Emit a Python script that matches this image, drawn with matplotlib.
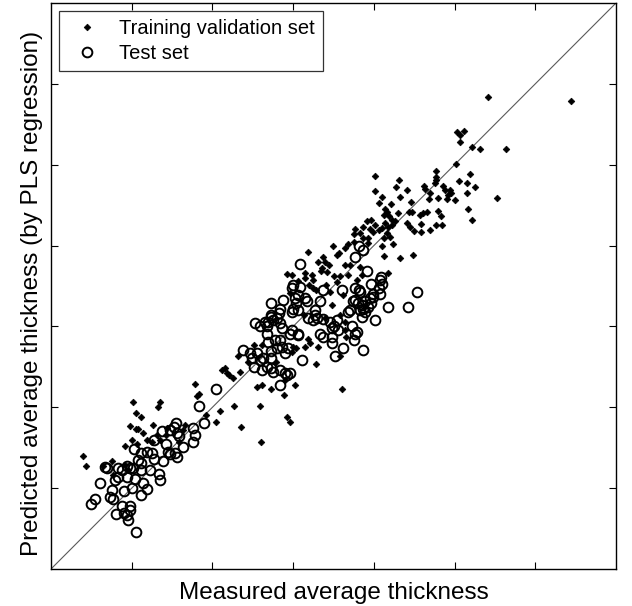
import matplotlib
matplotlib.use('Agg')
import matplotlib.pyplot as plt
import numpy as np

plt.rcParams['font.family'] = ['Liberation Sans', 'DejaVu Sans']

# training / validation set (measured, predicted)
train_x = [5.42, 6.44, 5.03, 5.07, 5.12, 5.07, 5.22, 5.31, 5.64, 5.02, 4.77, 4.77, 4.77, 4.76,
           5.19, 4.31, 5.05, 5.15, 4.28, 4.41, 4.62, 4.63, 4.86, 4.88, 4.94, 4.96, 4.92, 4.90,
           5.25, 5.16, 4.70, 5.52, 4.32, 4.10, 4.79, 4.68,
           4.02, 4.01, 5.01, 4.46, 4.06, 4.21, 5.17, 5.21,
           4.14, 4.16, 4.12, 4.19, 4.22, 4.26,
           4.30, 4.43, 4.47, 4.57, 4.61, 4.66, 4.80, 4.83,
           4.41, 4.45, 4.50, 4.59, 4.70, 4.59, 4.77, 4.84,
           3.91, 3.97, 4.01, 3.95, 3.99, 4.06, 4.10, 4.14, 4.18, 4.22, 4.16, 4.20, 4.12,
           3.77, 3.75, 3.83, 3.87, 3.86, 3.93,
           3.64, 3.68, 3.75, 3.93, 4.10, 4.12, 4.24, 4.32, 4.49, 4.18, 3.70, 3.83, 3.68, 3.85,
           3.49, 3.18, 3.37, 3.40, 3.45, 3.54, 3.57,
           3.15, 3.15, 3.23, 3.25, 3.35, 3.50, 3.58, 3.54,
           3.24, 3.46, 3.13, 3.19, 3.21, 3.00, 3.04, 3.15, 3.31, 3.58, 3.28,
           3.62, 3.64, 3.66, 3.79, 3.48, 3.58, 3.40, 3.64,
           2.93, 2.96, 3.60, 2.60,
           3.31, 3.36, 3.42, 3.20, 3.28, 3.41, 3.64, 2.99, 3.06,
           2.61, 2.44, 2.79, 2.99,
           2.32, 2.51, 2.12, 2.16, 2.18, 2.26, 2.34, 2.55, 2.61, 2.73, 2.90, 3.02, 2.89,
           2.59, 2.27, 2.92, 2.96, 2.36, 2.05, 2.09, 1.92, 1.78, 1.81, 1.83, 1.66, 1.64,
           1.02, 1.05, 1.12, 1.35, 1.33, 2.20,
           0.98, 1.05, 1.08, 1.14, 1.26, 1.00, 0.92, 0.40, 0.43, 0.76, 0.65, 1.07,
           1.31, 1.35, 1.19, 1.25, 1.44, 1.43, 1.58, 0.77, 0.92, 0.96]
train_y = [5.84, 5.79, 5.40, 5.37, 5.42, 5.28, 5.22, 5.19, 5.19, 5.01, 4.92, 4.85, 4.81, 4.77,
           4.89, 4.81, 4.80, 4.78, 4.72, 4.69, 4.74, 4.70, 4.74, 4.69, 4.69, 4.65, 4.63, 4.58,
           4.72, 4.65, 4.65, 4.59, 4.60, 4.60, 4.59, 4.58,
           4.86, 4.67, 4.56, 4.54, 4.53, 4.51, 4.45, 4.32,
           4.45, 4.42, 4.38, 4.36, 4.32, 4.31,
           4.40, 4.41, 4.41, 4.38, 4.40, 4.41, 4.43, 4.37,
           4.28, 4.23, 4.18, 4.27, 4.19, 4.17, 4.25, 4.26,
           4.30, 4.32, 4.25, 4.21, 4.17, 4.19, 4.22, 4.28, 4.23, 4.25, 4.15, 4.11, 4.09,
           4.21, 4.14, 4.16, 4.23, 4.09, 4.09,
           3.97, 4.02, 4.05, 4.03, 3.99, 3.87, 4.02, 3.85, 3.88, 3.66, 3.76, 3.74, 3.64, 3.64,
           3.99, 3.92, 3.86, 3.80, 3.76, 3.88, 3.91,
           3.66, 3.60, 3.64, 3.58, 3.68, 3.62, 3.62, 3.55,
           3.47, 3.42, 3.14, 2.85, 2.79, 2.75, 2.73, 2.75, 2.75, 2.63, 2.54,
           3.39, 2.96, 2.87, 3.57, 3.26, 3.14, 3.10, 3.05,
           3.65, 3.41, 2.23, 1.57,
           3.80, 3.72, 3.67, 3.51, 3.45, 3.51, 3.76, 3.64, 3.56,
           2.77, 2.56, 2.56, 2.68,
           2.63, 2.77, 2.46, 2.48, 2.43, 2.36, 2.44, 2.25, 2.28, 2.22, 2.34, 2.28, 2.15,
           2.02, 2.01, 1.88, 1.82, 1.76, 1.82, 1.95, 1.91, 2.29, 2.14, 2.17, 1.78, 1.72,
           2.06, 1.93, 1.88, 2.06, 2.00, 2.40,
           1.77, 1.73, 1.73, 1.68, 1.78, 1.60, 1.52, 1.40, 1.28, 1.34, 1.27, 1.55,
           1.66, 1.60, 1.60, 1.57, 1.74, 1.66, 1.57, 1.16, 1.29, 1.22]

# test set (measured, predicted)
test_x = [3.81, 3.87, 3.77, 3.91, 3.97, 4.09, 4.10, 4.53, 3.81,
          3.09, 3.37, 2.98, 3.60, 3.02, 3.04, 3.00, 2.98, 3.06, 3.15, 3.17, 3.33, 3.27, 3.27,
          2.98, 3.19, 3.25, 3.29, 3.37, 3.46, 3.50, 3.54, 3.56, 3.48, 3.33, 3.37, 3.06, 3.48,
          3.11, 3.52, 2.96,
          3.77, 3.83, 3.77, 3.74, 3.80, 3.85, 3.89, 3.95, 3.99, 3.97, 3.87, 3.83, 3.89, 3.85, 3.93,
          4.08, 4.06, 4.08, 3.99,
          4.17, 4.42, 4.02, 3.71, 3.68, 3.73, 3.77, 3.79, 3.75, 3.87, 3.62, 3.48,
          2.73, 2.88, 2.53, 2.59, 2.69, 2.73, 2.80, 2.84, 2.86, 2.67, 2.69, 2.78, 2.84, 2.86,
          2.94, 2.90, 2.80, 2.73, 2.96, 3.06, 2.38,
          2.49, 2.47, 2.55, 2.59, 2.63, 2.51, 2.61, 2.67, 2.73, 2.75, 2.84, 2.90, 2.92, 2.73,
          2.84, 2.04, 1.83, 1.76, 1.89, 1.78,
          3.00, 3.09, 3.06, 2.84, 2.82, 2.73, 2.75, 2.65, 2.67,
          1.55, 1.52, 1.47, 1.56, 1.58, 1.37, 1.76, 1.64, 1.27, 1.43, 1.03, 1.12, 1.19, 1.25,
          1.45, 1.47, 1.56, 1.54, 1.27, 1.39, 0.67, 0.69, 1.08, 1.12, 0.83, 0.88, 0.94, 0.98,
          1.02, 1.12, 1.23, 1.34, 1.35, 0.83, 0.79, 0.94, 1.04, 0.61, 0.75, 0.73, 0.77, 0.90,
          1.00, 1.14, 1.19, 1.12, 0.55, 0.50, 0.88, 0.98, 0.98, 0.90, 0.81, 0.94, 0.96, 1.05]
test_y = [3.99, 3.95, 3.86, 3.69, 3.53, 3.61, 3.52, 3.42, 3.45,
          3.77, 3.45, 3.47, 3.45, 3.35, 3.29, 3.22, 3.18, 3.20, 3.35, 3.31, 3.31, 3.20, 3.14,
          2.96, 3.10, 3.08, 3.10, 3.09, 3.06, 3.00, 3.08, 2.96, 2.98, 2.91, 2.87, 2.89, 2.79,
          2.58, 2.63, 2.42,
          3.47, 3.43, 3.33, 3.31, 3.29, 3.26, 3.31, 3.35, 3.37, 3.29, 3.22, 3.20, 3.18, 3.12, 3.24,
          3.57, 3.47, 3.40, 3.40,
          3.24, 3.24, 3.08, 3.20, 3.18, 3.00, 2.91, 2.93, 2.83, 2.71, 2.73, 2.87,
          3.29, 3.33, 3.04, 3.00, 3.06, 3.12, 3.10, 3.04, 2.98, 2.91, 2.81, 2.83, 2.83, 2.75,
          2.73, 2.67, 2.73, 2.69, 2.91, 2.91, 2.71,
          2.61, 2.67, 2.67, 2.58, 2.61, 2.50, 2.46, 2.50, 2.48, 2.44, 2.46, 2.42, 2.40, 2.61,
          2.28, 2.23, 2.01, 1.74, 1.80, 1.66,
          3.51, 3.49, 3.39, 3.22, 3.16, 3.14, 3.08, 3.06, 3.00,
          1.81, 1.76, 1.72, 1.68, 1.64, 1.71, 1.57, 1.51, 1.59, 1.54, 1.48, 1.44, 1.45, 1.43,
          1.45, 1.42, 1.39, 1.43, 1.36, 1.33, 1.26, 1.25, 1.35, 1.31, 1.25, 1.22, 1.27, 1.25,
          1.25, 1.22, 1.22, 1.17, 1.10, 1.14, 1.10, 1.14, 1.11, 1.06, 0.98, 0.89, 0.87, 0.96,
          1.00, 1.06, 0.99, 0.92, 0.86, 0.80, 0.78, 0.78, 0.73, 0.69, 0.68, 0.67, 0.61, 0.46]

lims = [0, 7]
ticks = [1, 2, 3, 4, 5, 6]

fig = plt.figure(figsize=(6.32, 6.06), dpi=100)
ax = fig.add_axes([51 / 632, 37 / 606, 565 / 632, 566 / 606])

ax.plot(lims, lims, color='0.35', lw=0.8, zorder=1)
ax.plot(train_x, train_y, 'D', color='k', ms=3.4, mew=0.5, ls='none',
        label='Training validation set', zorder=3)
ax.plot(test_x, test_y, 'o', mfc='none', mec='k', ms=7, mew=1.4, ls='none',
        label='Test set', zorder=2)

ax.set_xlim(lims)
ax.set_ylim(lims)
ax.set_xticks(ticks)
ax.set_yticks(ticks)
ax.set_xticklabels([])
ax.set_yticklabels([])
ax.tick_params(direction='in', length=5, width=0.8, top=True, right=True)
for s in ax.spines.values():
    s.set_linewidth(1.0)

ax.set_xlabel('Measured average thickness', fontsize=17.5, labelpad=6)
ax.set_ylabel('Predicted average thickness (by PLS regression)', fontsize=17.5)
ax.yaxis.set_label_coords(-0.015, 0.486)

leg = ax.legend(loc='upper left', fontsize=14.5, frameon=True, fancybox=False,
                edgecolor='k', borderaxespad=0.4, handletextpad=0.6,
                borderpad=0.4, labelspacing=0.3, handlelength=2.0)
leg.get_frame().set_linewidth(0.9)

fig.savefig('out.png', dpi=100)
